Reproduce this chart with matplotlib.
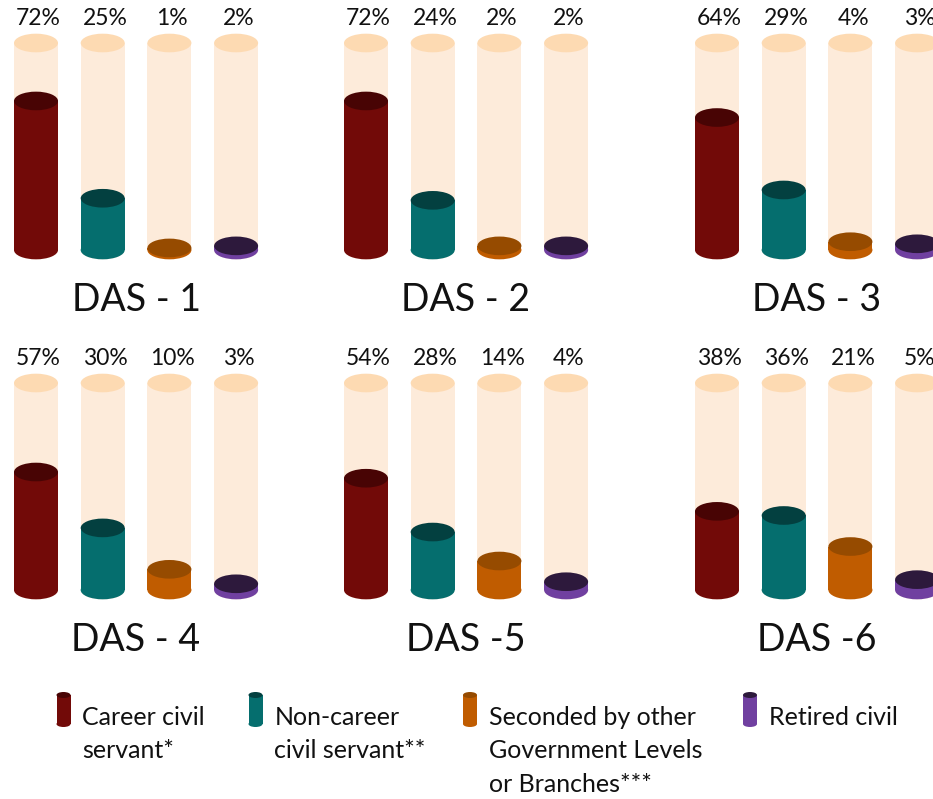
import matplotlib
matplotlib.use('Agg')
import matplotlib.pyplot as plt
from matplotlib.patches import Ellipse, Rectangle

plt.rcParams['font.family'] = ['Lato', 'DejaVu Sans']

# ################ data
panels = ['DAS - 1', 'DAS - 2', 'DAS - 3', 'DAS - 4', 'DAS -5', 'DAS -6']
career = [72, 72, 64, 57, 54, 38]
noncareer = [25, 24, 29, 30, 28, 36]
seconded = [1, 2, 4, 10, 14, 21]
retired = [2, 2, 3, 3, 4, 5]
legend_labels = ['Career civil\nservant*', 'Non-career\ncivil servant**',
                 'Seconded by other\nGovernment Levels\nor Branches***', 'Retired civil']

# ################ styles
body_cols = ['#720A08', '#056E6E', '#C05C00', '#7040A0']
top_cols = ['#480404', '#034040', '#964B00', '#2D193C']
bg_body = '#FDEBDA'
bg_top = '#FDDAB2'

W, H = 933, 799
col_x0 = [36, 366, 717]      # pixel centre of first cylinder per column
row_base = [250, 590]        # pixel of cylinder base per row
dx = 66.7                    # px per category
dy = 2.07                    # px per percent
cw = 0.66                    # cylinder width (category units)
eh = 9                       # ellipse height (percent units)


def cylinder(ax, x, v, body, top, w=cw, h=eh):
    ax.add_patch(Ellipse((x, 0), w, h, color=body, lw=0))
    ax.add_patch(Rectangle((x - w / 2, 0), w, v, color=body, lw=0))
    ax.add_patch(Ellipse((x, v), w, h, color=top, lw=0))


fig = plt.figure(figsize=(W / 100, H / 100), dpi=100)

for i, name in enumerate(panels):
    r, c = divmod(i, 3)
    left = col_x0[c] - 0.6 * dx
    bottom = row_base[r] + 30 * dy
    ax = fig.add_axes([left / W, 1 - bottom / H, 4.2 * dx / W, 150 * dy / H])
    ax.set_xlim(-0.6, 3.6)
    ax.set_ylim(-30, 120)
    ax.axis('off')
    vals = [career[i], noncareer[i], seconded[i], retired[i]]
    for k, v in enumerate(vals):
        cylinder(ax, k, 100, bg_body, bg_top)
        cylinder(ax, k, v, body_cols[k], top_cols[k])
        # edge labels (3%, 5%) run off the page like in the original
        ax.text(k + 0.04, 112, '%d%%' % v, ha='center', va='center', fontsize=16.5,
                color='#111111', clip_on=False)
    ax.text(1.5, -24, name, ha='center', va='center', fontsize=27,
            color='#111111', clip_on=False)

# ################ legend
lax = fig.add_axes([0, 0, 1, 120 / H])
lax.set_xlim(0, W)
lax.set_ylim(120, 0)
lax.axis('off')
icon_x = [63.5, 255.5, 470, 750]
for k, lab in enumerate(legend_labels):
    x = icon_x[k]
    lax.add_patch(Ellipse((x, 45), 14, 6, color=body_cols[k], lw=0))
    lax.add_patch(Rectangle((x - 7, 16), 14, 29, color=body_cols[k], lw=0))
    lax.add_patch(Ellipse((x, 16), 14, 6, color=top_cols[k], lw=0))
    lax.text(x + 19, 27, lab, ha='left', va='top', fontsize=18,
             color='#111111', linespacing=1.55)

fig.savefig('out.png', dpi=100)
